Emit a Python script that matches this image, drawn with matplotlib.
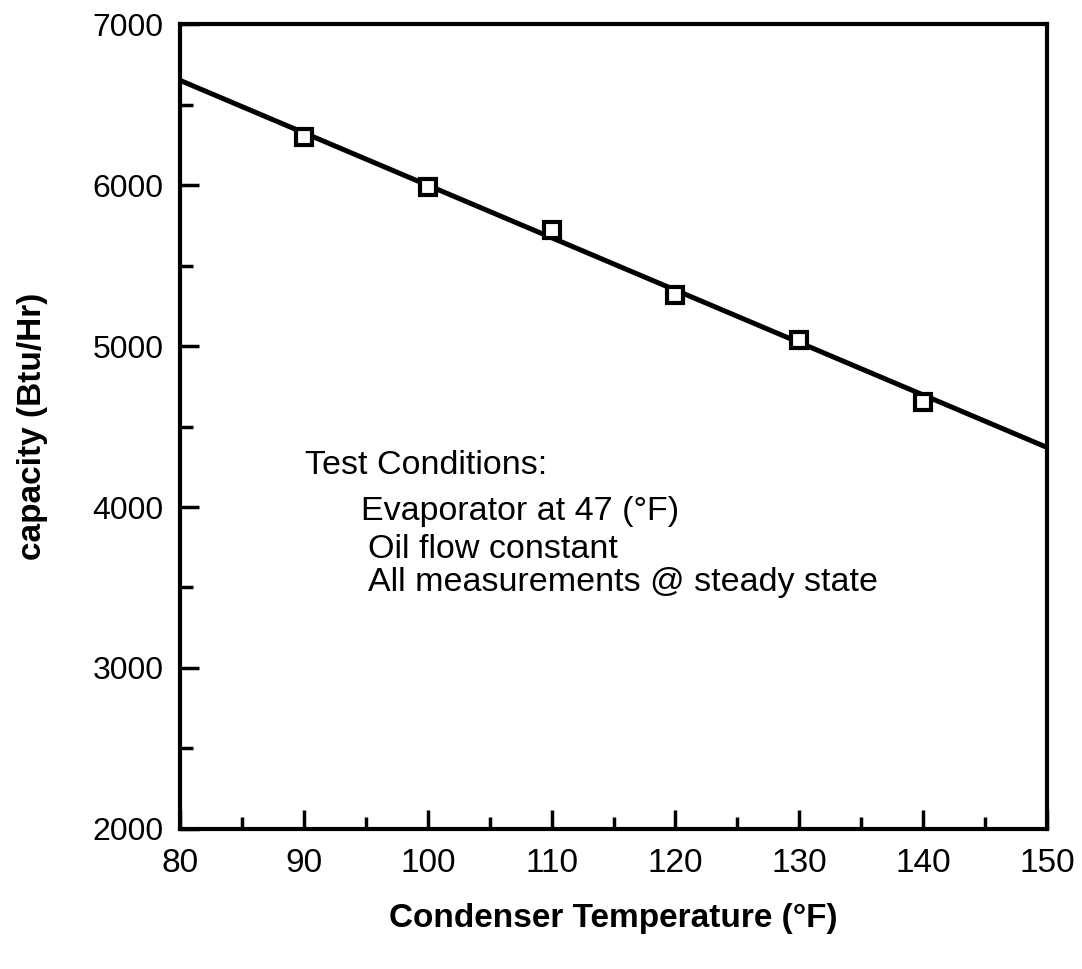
import matplotlib
matplotlib.use("Agg")
import matplotlib.pyplot as plt
from matplotlib.ticker import MultipleLocator

plt.rcParams['font.family'] = ['Liberation Sans', 'DejaVu Sans']

# measured points
temps = [90, 100, 110, 120, 130, 140]
capacity = [6296, 5985, 5723, 5319, 5039, 4653]
# fitted line end points
fit_t = [80, 150]
fit_cap = [6650, 4370]

notes = ["Test Conditions:", "Evaporator at 47 (\u00b0F)", "Oil flow constant",
         "All measurements @ steady state"]
note_x = [90.1, 94.6, 95.2, 95.2]
note_y = [4255, 3969, 3738, 3528]

fig = plt.figure(figsize=(10.82, 9.69), dpi=100)
ax = fig.add_axes([0.1664, 0.1445, 0.8013, 0.8307])

ax.plot(fit_t, fit_cap, color='black', linewidth=3.6, zorder=2)
ax.plot(temps, capacity, linestyle='none', marker='s', markersize=11,
        markerfacecolor='white', markeredgecolor='black', markeredgewidth=3, zorder=3)

for txt, x, y in zip(notes, note_x, note_y):
  ax.text(x, y, txt, fontsize=24.5, va='center', ha='left')

ax.set_xlim(80, 150)
ax.set_ylim(2000, 7000)
ax.xaxis.set_major_locator(MultipleLocator(10))
ax.xaxis.set_minor_locator(MultipleLocator(5))
ax.yaxis.set_major_locator(MultipleLocator(1000))
ax.yaxis.set_minor_locator(MultipleLocator(500))
ax.tick_params(which='both', direction='in', width=2.5, top=False, right=False)
ax.tick_params(which='major', length=14)
ax.tick_params(which='minor', length=9)
ax.tick_params(axis='x', labelsize=24, pad=14)
ax.tick_params(axis='y', labelsize=23, pad=12)
for s in ax.spines.values():
  s.set_linewidth(3)

ax.set_xlabel("Condenser Temperature (\u00b0F)", fontsize=24, fontweight='bold', labelpad=17)
ax.set_ylabel("capacity (Btu/Hr)", fontsize=24, fontweight='bold', labelpad=32)

fig.savefig("out.png", dpi=100)
